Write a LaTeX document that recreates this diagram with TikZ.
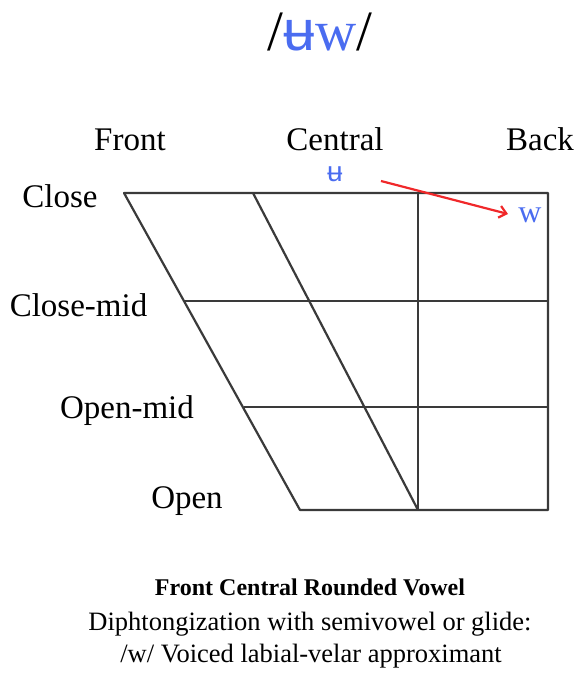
\documentclass[tikz,border=0pt]{standalone}
\usepackage{fontspec}
\setmainfont{Liberation Serif}
\newfontfamily\ipasans{Liberation Sans}
\usetikzlibrary{arrows.meta}
\definecolor{ipablue}{HTML}{4A6CF0}
\definecolor{gridgray}{HTML}{3A3A3A}
\definecolor{arrowred}{HTML}{F0282A}
\tikzset{
  gridline/.style={draw=gridgray,line width=2.2pt,line join=round},
  lbl/.style={font=\fontsize{33}{36}\selectfont,inner sep=0pt,anchor=base},
  captxt/.style={font=\fontsize{26.5}{30}\selectfont,inner sep=0pt,anchor=base},
  vowel/.style={inner sep=0pt,text=ipablue,anchor=base},
}
\begin{document}
\begin{tikzpicture}[x=1pt,y=-1pt]
\useasboundingbox (0,0) rectangle (577,673);
% title
\node[inner sep=0pt,anchor=base,font=\fontsize{57}{60}\selectfont] (title) at (320,50) {/\textcolor{ipablue}{{\ipasans ʉ}w}/};
% grid corners
\coordinate (tl) at (124,193);
\coordinate (tc) at (253,193);
\coordinate (tv) at (418,193);
\coordinate (tr) at (548,193);
\coordinate (bl) at (300,510);
\coordinate (bc) at (418,510);
\coordinate (br) at (548,510);
\coordinate (cml) at (184,301);
\coordinate (cmr) at (548,301);
\coordinate (oml) at (244,407);
\coordinate (omr) at (548,407);
\draw[gridline] (tl) -- (tr) -- (br) -- (bl) -- cycle;
\draw[gridline] (tc) -- (bc);
\draw[gridline] (tv) -- (bc);
\draw[gridline] (cml) -- (cmr);
\draw[gridline] (oml) -- (omr);
% column labels
\node[lbl] (front) at (130,150) {Front};
\node[lbl] (central) at (335,150) {Central};
\node[lbl] (back) at (540,150) {Back};
% row labels
\node[lbl] (close) at (60,207) {Close};
\node[lbl] (closemid) at (78.5,316) {Close-mid};
\node[lbl] (openmid) at (127,418) {Open-mid};
\node[lbl] (open) at (187,508) {Open};
% vowels
\node[vowel,font=\ipasans\fontsize{28}{30}\selectfont] (u) at (335,181) {ʉ};
\node[vowel,font=\fontsize{32}{34}\selectfont] (w) at (530,222) {w};
\coordinate (as) at (381,181);
\coordinate (ae) at (508,214);
\draw[arrowred,line width=2.2pt,-{Straight Barb[length=7pt,width=12pt]}] (as) -- (ae);
% caption
\node[inner sep=0pt,anchor=base,font=\bfseries\fontsize{24}{27}\selectfont] (c1) at (310,595) {Front Central Rounded Vowel};
\node[captxt] (c2) at (310,630) {Diphtongization with semivowel or glide:};
\node[captxt] (c3) at (311,662) {/w/ Voiced labial-velar approximant};
\end{tikzpicture}
\end{document}
